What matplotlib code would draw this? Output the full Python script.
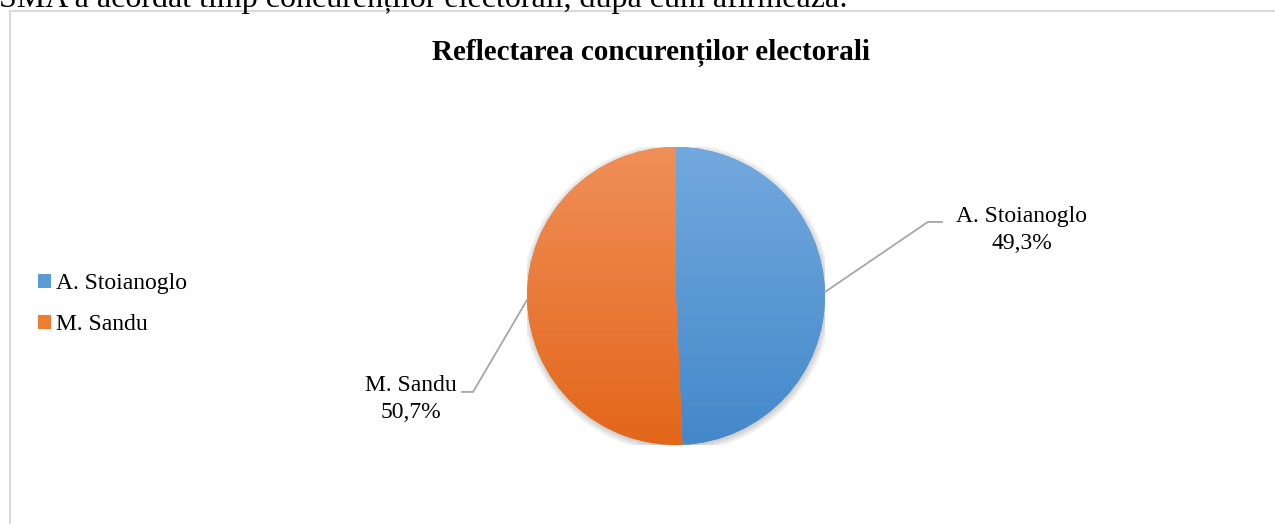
import numpy as np
import matplotlib
matplotlib.use('Agg')
import matplotlib.pyplot as plt
import matplotlib.colors as colors
from matplotlib.lines import Line2D
from matplotlib.patches import Circle

# Data
candidates = ['A. Stoianoglo', 'M. Sandu']
shares = [49.3, 50.7]
share_labels = ['49,3%', '50,7%']
title = 'Reflectarea concurenților electorali'
top_text = 'SMA a acordat timp concurenților electorali, după cum afirmează:'

# Office-like colours, with light->dark vertical gradient
base_cols = ['#5b9bd5', '#ed7d31']
grad_cols = [('#72a9de', '#4488ca'), ('#f08f58', '#e3661a')]

W, H = 1275, 524
plt.rcParams['font.family'] = ['Liberation Serif', 'DejaVu Serif']

fig = plt.figure(figsize=(W / 100, H / 100), dpi=100)
fig.patch.set_facecolor('white')

# page text cut off at top (as in the source document)
fig.text(-1 / W, 1 - 7 / H, top_text, fontsize=23, va='baseline', ha='left', color='black')

# chart border (only left and top visible)
bc = '#d9d9d9'
fig.add_artist(Line2D([10 / W, 10 / W], [0, 1 - 11 / H], color=bc, lw=1.5, transform=fig.transFigure))
fig.add_artist(Line2D([10 / W, 1], [1 - 11 / H, 1 - 11 / H], color=bc, lw=1.5, transform=fig.transFigure))

fig.text(651 / W, 1 - 60 / H, title, fontsize=21, fontweight='bold', ha='center', va='baseline')

# pie axes: centre (676, 296) px, radius 149 px
cx, cy, r = 676, 296, 149
ax = fig.add_axes([(cx - r) / W, (H - cy - r) / H, 2 * r / W, 2 * r / H])
ax.set_xlim(-1, 1)
ax.set_ylim(-1, 1)
ax.axis('off')

# soft shadow
for k in range(8):
    ax.add_patch(Circle((0.004, -0.012), 1.0 + 0.006 * k, color='black', alpha=0.025, lw=0, zorder=0))

wedges, _ = ax.pie(shares, colors=base_cols, startangle=90, counterclock=False,
                   radius=1, wedgeprops=dict(lw=0), labels=None)
grad = np.linspace(0, 1, 256).reshape(-1, 1)
for w, (c1, c2) in zip(wedges, grad_cols):
    w.set_zorder(1)
    cm = colors.LinearSegmentedColormap.from_list('g', [c1, c2])
    im = ax.imshow(grad, cmap=cm, extent=(-1, 1, -1, 1), origin='upper', aspect='auto', zorder=2)
    im.set_clip_path(w)
ax.set_xlim(-1, 1)
ax.set_ylim(-1, 1)

# data labels with leader lines (axes data units = pie radius)
lc = '#a6a6a6'
fs = 17
ax.plot([1.0, 1.69, 1.785], [0.027, 0.497, 0.497], color=lc, lw=1.3, clip_on=False, zorder=3)
ax.text(2.32, 0.443, candidates[0] + '\n' + share_labels[0], ha='center', va='center',
        fontsize=fs, linespacing=1.4)
ax.plot([-1.0, -1.362, -1.436], [-0.027, -0.644, -0.644], color=lc, lw=1.3, clip_on=False, zorder=3)
ax.text(-1.78, -0.69, candidates[1] + '\n' + share_labels[1], ha='center', va='center',
        fontsize=fs, linespacing=1.4)

fig.legend(wedges, candidates, loc='center left', bbox_to_anchor=(26 / W, 1 - 304 / H),
           frameon=False, fontsize=fs, handlelength=0.55, handleheight=0.55,
           handletextpad=0.2, labelspacing=0.85, borderpad=0)

fig.savefig('out.png', dpi=100)
